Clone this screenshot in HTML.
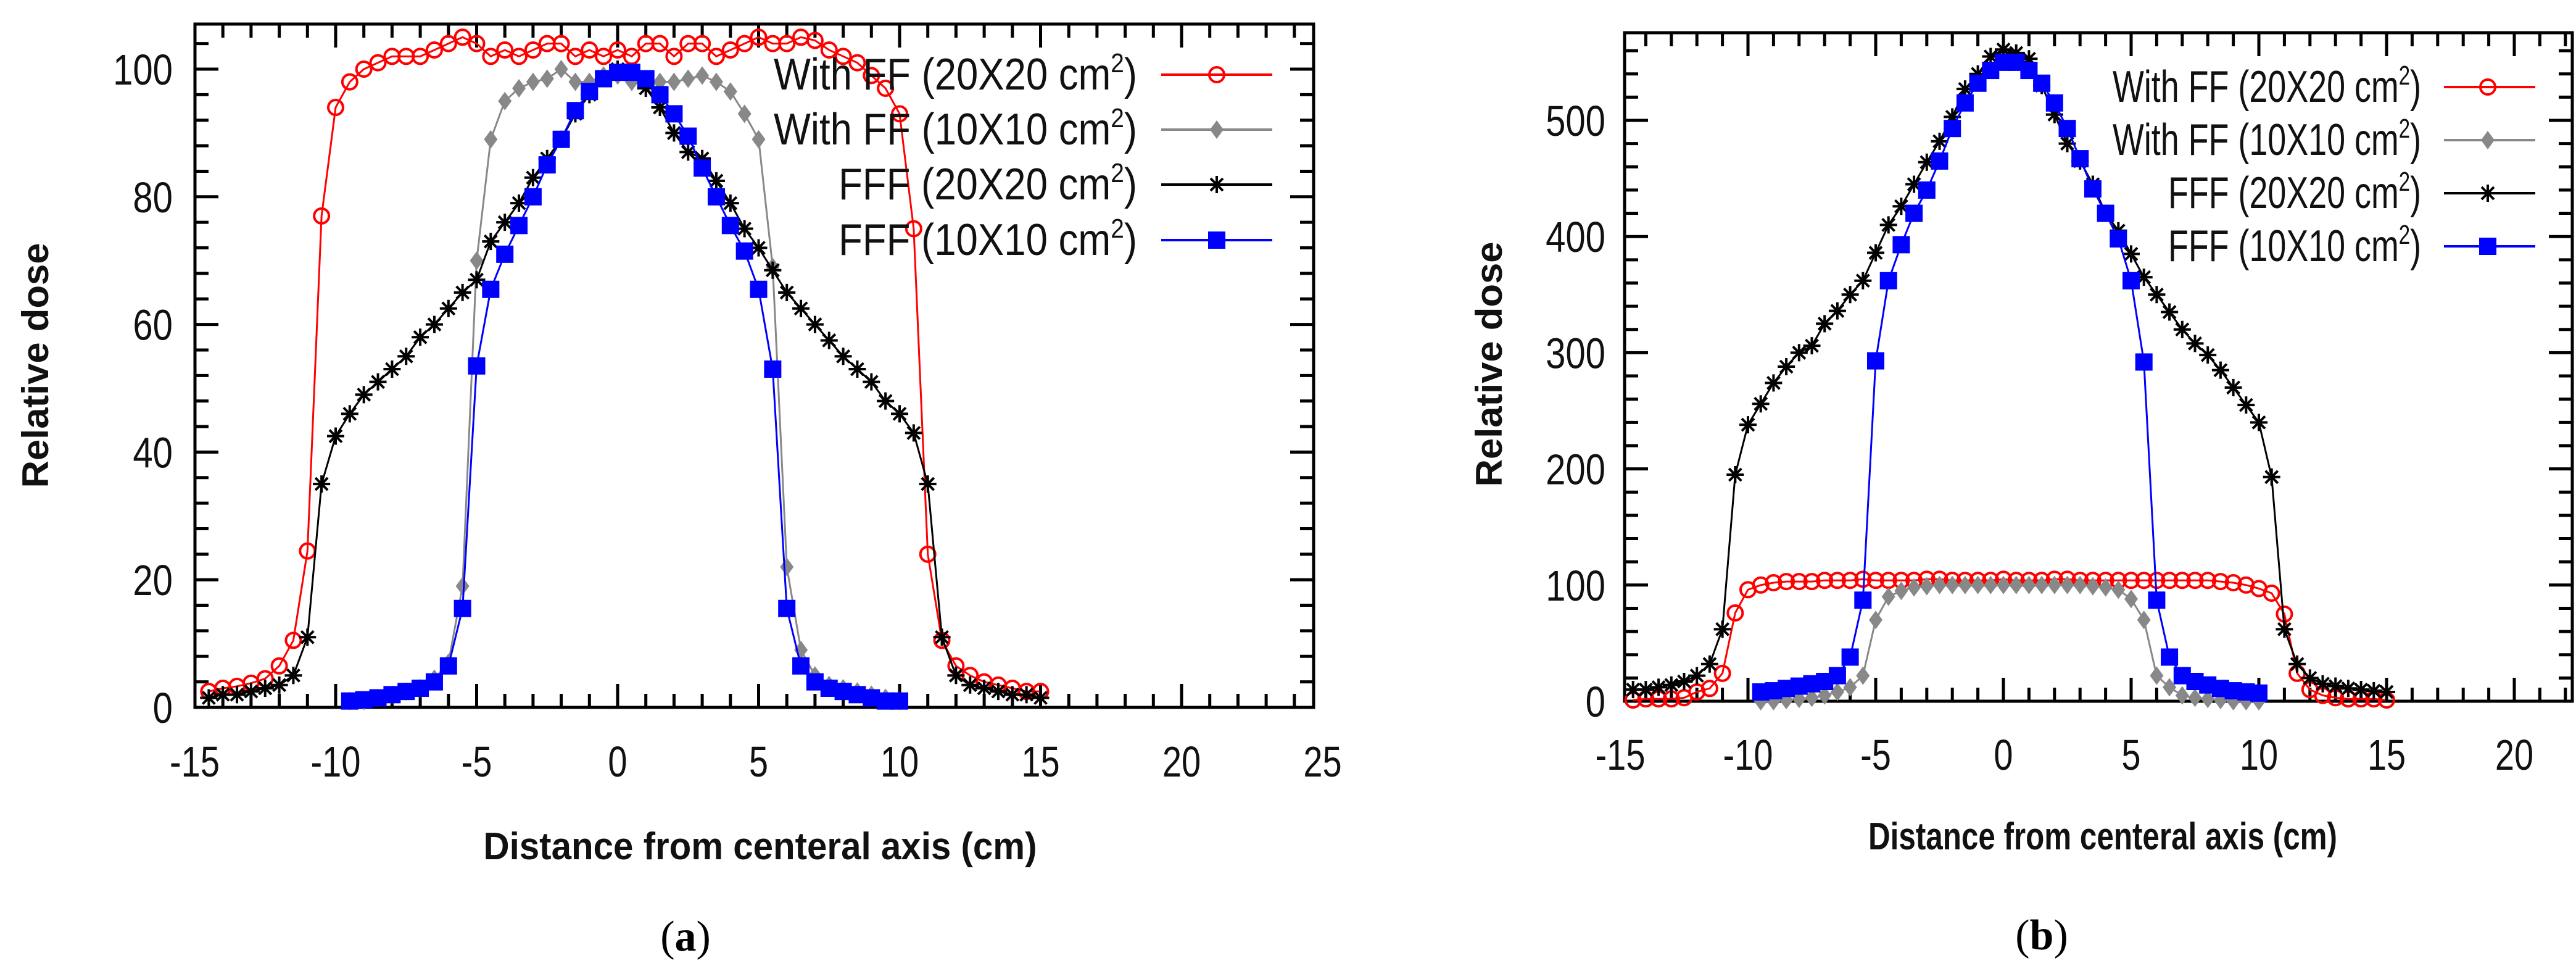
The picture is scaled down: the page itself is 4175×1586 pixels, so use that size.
<!DOCTYPE html>
<html><head><meta charset="utf-8"><style>
html,body{margin:0;padding:0;background:#fff;}
svg{display:block;font-family:"Liberation Sans",sans-serif;}
</style></head><body>
<svg id="fig" width="4175" height="1586" viewBox="0 0 4175 1586" xmlns="http://www.w3.org/2000/svg"></svg>
<script>
// ---------- data (a) ----------
const xsA_red = [-14.5,-14,-13.5,-13,-12.5,-12,-11.5,-11,-10.5,-10,-9.5,-9,-8.5,-8,-7.5,-7,-6.5,-6,-5.5,-5,-4.5,-4,-3.5,-3,-2.5,-2,-1.5,-1,-0.5,0,0.5,1,1.5,2,2.5,3,3.5,4,4.5,5,5.5,6,6.5,7,7.5,8,8.5,9,9.5,10,10.5,11,11.5,12,12.5,13,13.5,14,14.5,15];
const a_ffLarge = [2.5,3,3.3,3.8,4.5,6.5,10.5,24.5,77,94,98,100,101,102,102,102,103,104,105,104,102,103,102,103,104,104,102,103,102,103,102,104,104,102,104,104,102,103,104,105,104,104,105,104.5,103,102,101,99,97,93,75,24,10.5,6.5,5,4,3.5,3,2.5,2.5];
const a_fffLarge = [1.5,2,2,2.5,3,3.5,5,11,35,42.5,46,49,51,53,55,58,60,62.5,65,67,73,76,79,83,86,89,93,96,98.5,100,99.5,97,94,90,87,86,82.5,79,75,72,68.5,65,62.5,60,57.5,55,53,51,48,46,43,35,11,5,3.5,3,2.5,2,2,1.5];
const xsA_small = [-9.5,-9,-8.5,-8,-7.5,-7,-6.5,-6,-5.5,-5,-4.5,-4,-3.5,-3,-2.5,-2,-1.5,-1,-0.5,0,0.5,1,1.5,2,2.5,3,3.5,4,4.5,5,5.5,6,6.5,7,7.5,8,8.5,9,9.5,10];
const a_ffSmall = [1,1,1.5,2,2.5,3,4.5,7,19,70,89,95,97,98,98.5,100,98,98,99,99,98,98,98,98,98.5,99,98,96.5,93,89,69,22,9,5,3.5,3,2.5,2,1.5,1];
const a_fffSmall = [1,1.2,1.5,2,2.5,3,4,6.5,15.5,53.5,65.5,71,75.5,80,85,89,93.5,96.5,98.5,99.5,99.5,98.5,96,93,89.5,84.5,80,75.5,71.5,65.5,53,15.5,6.5,4,3,2.5,2,1.5,1,1];
// ---------- data (b) ----------
const b_ffLarge = [1,2,2,2,3,8,11,24,76,96,100,102,103,103,103,104,104,104,105,104,104,104,104,105,105,104,104,104,104,105,104,104,104,105,105,104,104,104,104,104,104,104,104,104,104,104,103,102,100,97,93,75,24,10,5,3,2,2,2,1];
const b_fffLarge = [10,10,12,14,17,22,32,62,195,238,256,274,288,300,306,325,336,350,362,386,410,426,445,464,482,503,527,540,555,561,558,553,530,505,480,465,445,420,405,385,365,350,335,320,308,298,285,270,255,240,193,62,32,20,15,13,11,10,9,8];
const b_ffSmall = [0,0,1,2,3,5,8,12,22,70,90,95,98,99,100,100,100,100,100,100,100,100,100,100,100,100,99,98,96,88,70,22,12,5,3,2,1,0,0,0];
const b_fffSmall = [8,9,11,13,15,17,22,38,87,293,362,393,420,440,465,493,515,532,543,550,550,543,532,515,493,467,441,420,398,362,292,87,38,22,17,14,11,9,8,7];
const xTicks = [-15,-10,-5,0,5,10,15,20,25];
const yTicksA = [0,20,40,60,80,100];
const yTicksB = [0,100,200,300,400,500];
const legendLabels = ["With FF (20X20 cm","With FF (10X10 cm","FFF (20X20 cm","FFF (10X10 cm"];

const NS="http://www.w3.org/2000/svg";
const svg=document.getElementById('fig');
function mk(tag,attrs,parent){const e=document.createElementNS(NS,tag);for(const k in attrs)e.setAttribute(k,attrs[k]);(parent||svg).appendChild(e);return e;}

function marker(g,type,x,y,color){
  let e;
  if(type==='circle'){e=mk('circle',{cx:x,cy:y,r:12,fill:'none',stroke:color,'stroke-width':4},g);}
  else if(type==='diamond'){e=mk('polygon',{points:`${x},${y-15} ${x+11},${y} ${x},${y+15} ${x-11},${y}`,fill:color},g);}
  else if(type==='square'){e=mk('rect',{x:x-14,y:y-14,width:28,height:28,fill:color},g);}
  else {e=mk('path',{d:`M${x-14},${y}H${x+14}M${x},${y-14}V${y+14}M${x-10},${y-10}L${x+10},${y+10}M${x-10},${y+10}L${x+10},${y-10}`,stroke:color,'stroke-width':4},g);}
  
  
}

function chart(cfg){
  const {L,T,R,B,x0,xpu,y0,ypu,yTicks,yMinor,ymax,series,legend,name}=cfg;
  const X=v=>x0+v*xpu, Y=v=>y0-v*ypu;
  const g=mk('g',{});
  
  
  // ticks
  const tg=mk('g',{stroke:'#000','stroke-width':5},g);
  
  
  for(let v=-15; X(v)<R; v++){
    if(X(v)<=L)continue;
    const len=(v%5===0)?38:22;
    mk('line',{x1:X(v),y1:B,x2:X(v),y2:B-len},tg);
    mk('line',{x1:X(v),y1:T,x2:X(v),y2:T+len},tg);
  }
  for(let v=0; Y(v)>T; v+=yMinor){
    const major=yTicks.includes(v);
    const len=major?38:22;
    mk('line',{x1:L,y1:Y(v),x2:L+len,y2:Y(v)},tg);
    mk('line',{x1:R,y1:Y(v),x2:R-len,y2:Y(v)},tg);
  }
  const fr=mk('rect',{x:L,y:T,width:R-L,height:B-T,fill:'none',stroke:'#000','stroke-width':5},g);
  
  
  // tick labels
  xTicks.forEach(v=>{ if(X(v)>R+40)return;
    const t=mk('text',{transform:`translate(${X(v)},${cfg.xlabY}) scale(0.8,1)`,'text-anchor':'middle','font-size':70,fill:'#111'},g);
    t.textContent=v;  });
  yTicks.forEach(v=>{
    const t=mk('text',{transform:`translate(${cfg.ylabX},${Y(v)+25}) scale(0.83,1)`,'text-anchor':'end','font-size':70,fill:'#111'},g);
    t.textContent=v;  });
  // series
  series.forEach(s=>{
    const sg=mk('g',{},g);
    
    
    const pts=s.xs.map((x,i)=>X(x)+','+Y(s.ys[i])).join(' ');
    mk('polyline',{points:pts,fill:'none',stroke:s.color,'stroke-width':3},sg);
    s.xs.forEach((x,i)=>marker(sg,s.type,X(x),Y(s.ys[i]),s.color));
  });
  // legend
  series.forEach((s,i)=>{
    const lg=mk('g',{},g);
    
    
    const y=legend.rows[i];
    const t=mk('text',{x:legend.tx,y:y+24,'text-anchor':'end','font-size':72,fill:'#111',textLength:legend.tw[i],lengthAdjust:'spacingAndGlyphs'},lg);
    t.textContent=legendLabels[i];
    const sup=mk('tspan',{dy:-28,'font-size':44},t); sup.textContent='2';
    const cl=mk('tspan',{dy:28},t); cl.textContent=')';
    mk('line',{x1:legend.l1,y1:y,x2:legend.l2,y2:y,stroke:s.color,'stroke-width':4},lg);
    marker(lg,s.type,legend.mx,y,s.color);
  });
  // titles
  const yt=mk('text',{transform:`translate(${cfg.ytX},${cfg.ytY}) rotate(-90)`,'text-anchor':'middle','font-size':60,'font-weight':'bold',fill:'#111',textLength:397,lengthAdjust:'spacingAndGlyphs'},g);
  yt.textContent='Relative dose';  
  const xt=mk('text',{x:cfg.xtX,y:cfg.xtY,'text-anchor':'middle','font-size':62,'font-weight':'bold',fill:'#111',textLength:cfg.xtW,lengthAdjust:'spacingAndGlyphs'},g);
  xt.textContent='Distance from centeral axis (cm)';  
  const cap=mk('text',{x:cfg.capX,y:cfg.capY,'text-anchor':'middle','font-size':70,'font-family':'Liberation Serif, serif',fill:'#000'},g);
  cap.textContent='('; const bb=mk('tspan',{'font-weight':'bold'},cap); bb.textContent=cfg.cap; const cc=mk('tspan',{},cap); cc.textContent=')';
   
}

chart({name:'chart-a',L:316,T:39,R:2129,B:1146,x0:1001,xpu:45.7,y0:1146,ypu:10.34,yTicks:yTicksA,yMinor:4,
  xlabY:1258,ylabX:280,ytX:78,ytY:592,xtX:1232,xtY:1392,xtW:897,capX:1111,capY:1540,cap:'a',
  series:[
    {name:'series-ff-20x20',xs:xsA_red,ys:a_ffLarge,color:'#ff0000',type:'circle'},
    {name:'series-ff-10x10',xs:xsA_small,ys:a_ffSmall,color:'#888888',type:'diamond'},
    {name:'series-fff-20x20',xs:xsA_red,ys:a_fffLarge,color:'#000000',type:'star'},
    {name:'series-fff-10x10',xs:xsA_small,ys:a_fffSmall,color:'#0000ff',type:'square'}],
  legend:{rows:[121,210,299,389],tx:1843,tw:[589,589,484,484],l1:1882,l2:2062,mx:1972}});

chart({name:'chart-b',L:2633,T:53,R:4169,B:1136,x0:3247,xpu:41.4,y0:1136,ypu:1.882,yTicks:yTicksB,yMinor:20,
  xlabY:1247,ylabX:2602,ytX:2434,ytY:590,xtX:3408,xtY:1376,xtW:760,capX:3309,capY:1538,cap:'b',
  series:[
    {name:'series-ff-20x20',xs:xsA_red,ys:b_ffLarge,color:'#ff0000',type:'circle'},
    {name:'series-ff-10x10',xs:xsA_small,ys:b_ffSmall,color:'#888888',type:'diamond'},
    {name:'series-fff-20x20',xs:xsA_red,ys:b_fffLarge,color:'#000000',type:'star'},
    {name:'series-fff-10x10',xs:xsA_small,ys:b_fffSmall,color:'#0000ff',type:'square'}],
  legend:{rows:[141,227,313,399],tx:3924,tw:[500,500,410,410],l1:3961,l2:4109,mx:4032}});
</script>
</body></html>
